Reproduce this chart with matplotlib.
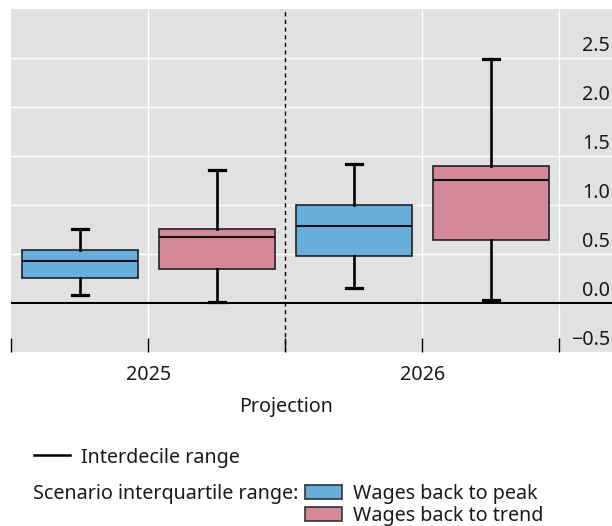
import matplotlib
matplotlib.use("Agg")
import matplotlib.pyplot as plt
from matplotlib.lines import Line2D
from matplotlib.patches import Rectangle

plt.rcParams['font.family'] = ['Noto Sans', 'DejaVu Sans']

# ---- data ----
years = ["2025", "2026"]
scenarios = ["Wages back to peak", "Wages back to trend"]
colors = ["#68aedd", "#d4899b"]
# per box: (decile low, q1, median, q3, decile high)
peak_vals = [(0.08, 0.26, 0.43, 0.54, 0.76), (0.16, 0.48, 0.79, 1.00, 1.42)]
trend_vals = [(0.01, 0.35, 0.68, 0.76, 1.36), (0.03, 0.65, 1.26, 1.40, 2.49)]
ytick_vals = [-0.5, 0.0, 0.5, 1.0, 1.5, 2.0, 2.5]
ytick_labels = ["\u22120.5", "0.0", "0.5", "1.0", "1.5", "2.0", "2.5"]

W, H = 612, 526
fig = plt.figure(figsize=(W / 100, H / 100), dpi=100)
ax = fig.add_axes([11.3 / W, 1 - 352.3 / H, 1 - 11.3 / W, (352.3 - 9) / H])
bg = "#e0e1e1"
ax.set_facecolor(bg)
for s in ax.spines.values():
    s.set_visible(False)

XMAX = (W - 11.3) / 137.0
ax.set_xlim(0, XMAX)
ax.set_ylim(-0.5, 3.0)

# grid
for v in ytick_vals:
    ax.axhline(v, color="white", lw=1.0, zorder=0.5)
for xv in [1, 3, 4]:
    ax.axvline(xv, color="white", lw=1.0, zorder=0.5)
ax.axvline(2, color="black", lw=1.0, ls=(0, (3.0, 2.5)), zorder=1)
ax.axhline(0, color="black", lw=1.5, zorder=1.5)

# boxes
stats, positions, fcs = [], [], []
for i, yr in enumerate(years):
    for j, vals in enumerate([peak_vals[i], trend_vals[i]]):
        lo, q1, med, q3, hi = vals
        stats.append(dict(whislo=lo, q1=q1, med=med, q3=q3, whishi=hi, label=""))
        positions.append(2 * i + 0.5 + j)
        fcs.append(colors[j])

bp = ax.bxp(stats, positions=positions, widths=0.85, patch_artist=True,
            showfliers=False, capwidths=0.12,
            boxprops=dict(edgecolor="#222222", lw=1.2),
            medianprops=dict(color="#111111", lw=1.5),
            whiskerprops=dict(color="black", lw=1.9),
            capprops=dict(color="black", lw=2.3),
            manage_ticks=False, zorder=3)
for patch, fc in zip(bp["boxes"], fcs):
    patch.set_facecolor(fc)

# x ticks
ax.set_xticks([0, 1, 2, 3, 4])
ax.set_xticklabels([])
ax.tick_params(axis="x", direction="in", length=10, width=1.0, color="black")
ax.tick_params(axis="y", left=False, labelleft=False)

fs = 14.2
tc = "#1a1a1a"
# y labels inside on right
for v, lab in zip(ytick_vals, ytick_labels):
    ax.text(4.37, v + 0.07, lab, ha="right", va="baseline", fontsize=fs, color=tc)

def fx(x):
    return x / W
def fy(y):
    return 1 - y / H

# category labels
for i, yr in enumerate(years):
    xpix = 11.3 + 137.0 * (2 * i + 1)
    fig.text(fx(xpix), fy(380), yr, ha="center", va="baseline", fontsize=fs, color=tc)
fig.text(fx(286), fy(412), "Projection", ha="center", va="baseline", fontsize=fs, color=tc)

# legend
fig.add_artist(Line2D([fx(34), fx(70)], [fy(455), fy(455)], color="black", lw=1.8))
fig.text(fx(81), fy(455), "Interdecile range", ha="left", va="center_baseline", fontsize=fs, color=tc)
fig.text(fx(33), fy(492), "Scenario interquartile range:", ha="left", va="center_baseline", fontsize=fs, color=tc)
for k, (name, c) in enumerate(zip(scenarios, colors)):
    ytop = 485 + 22 * k
    fig.add_artist(Rectangle((fx(305), fy(ytop + 14)), 37 / W, 14 / H, facecolor=c,
                             edgecolor="#333333", lw=1.2, transform=fig.transFigure))
    fig.text(fx(353), fy(ytop + 7), name, ha="left", va="center_baseline", fontsize=fs, color=tc)

fig.savefig("out.png", dpi=100, facecolor="white")
